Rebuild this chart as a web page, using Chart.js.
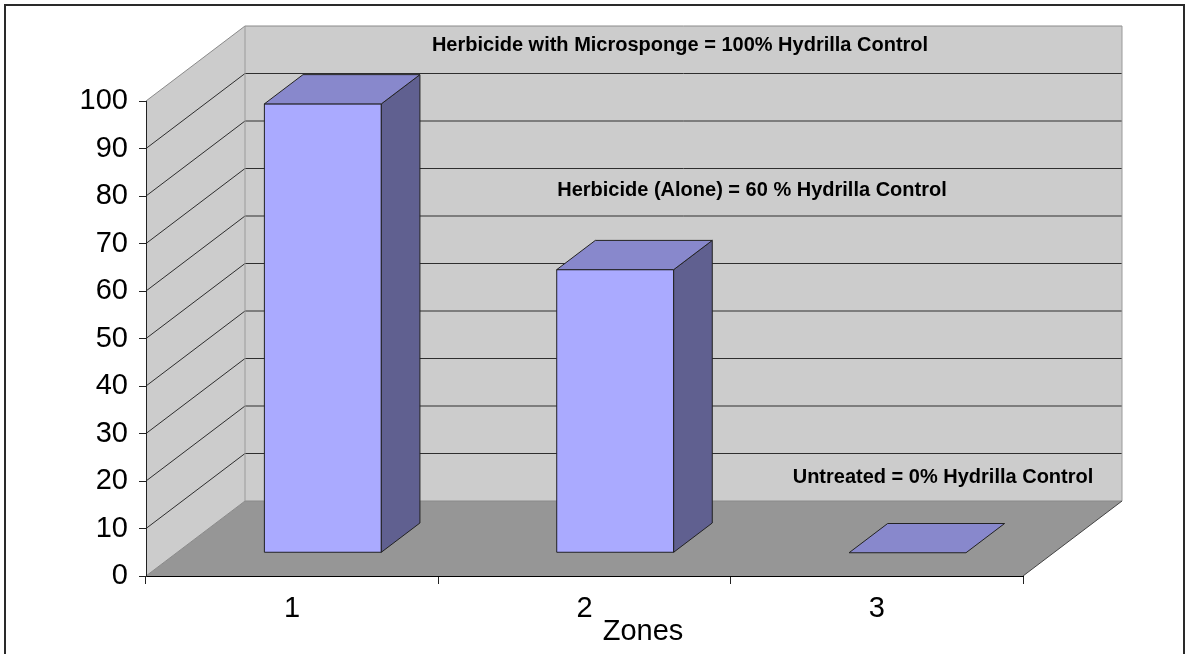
<!DOCTYPE html>
<html><head><meta charset="utf-8">
<script src="https://cdn.jsdelivr.net/npm/chart.js@4/dist/chart.umd.min.js"></script>
<style>html,body{margin:0;padding:0;background:#fff}canvas{display:block}</style>
</head><body>
<canvas id="c" width="1186" height="654"></canvas>
<script>
// ---- data ----
const zones = ['1', '2', '3'];
const hydrillaControl = [94.5, 59.6, 0];
const yMin = 0, yMax = 100, yStep = 10;
const axisTitle = 'Zones';
const annotationTexts = [
  'Herbicide with Microsponge = 100% Hydrilla Control',
  'Herbicide (Alone) = 60 % Hydrilla Control',
  'Untreated = 0% Hydrilla Control'
];

// ---- 3D geometry / styles ----
const WALL = {dx: 99, dy: -75};
const BAR_FRONT = 0.31, BAR_DEPTH = 0.39;
const FONT = "'Liberation Sans', Arial, sans-serif";

function poly(ctx, pts, fill, stroke, lw) {
  ctx.beginPath();
  ctx.moveTo(pts[0][0], pts[0][1]);
  for (let i = 1; i < pts.length; i++) ctx.lineTo(pts[i][0], pts[i][1]);
  ctx.closePath();
  if (fill) { ctx.fillStyle = fill; ctx.fill(); }
  if (stroke) { ctx.strokeStyle = stroke; ctx.lineWidth = lw || 1; ctx.stroke(); }
}
function line(ctx, pts, color, lw) {
  ctx.beginPath();
  ctx.moveTo(pts[0][0], pts[0][1]);
  for (let i = 1; i < pts.length; i++) ctx.lineTo(pts[i][0], pts[i][1]);
  ctx.strokeStyle = color; ctx.lineWidth = lw || 1; ctx.stroke();
}

const threeD = {
  id: 'threeD',
  beforeDraw(chart) {
    const {ctx, chartArea: a, scales: {y}} = chart;
    ctx.save();
    ctx.fillStyle = '#fff';
    ctx.fillRect(0, 0, chart.width, chart.height);
    ctx.strokeStyle = '#2a2a2a'; ctx.lineWidth = 2;
    ctx.strokeRect(5, 5, 1179, 700);
    const L = a.left, R = a.right;
    const T = y.getPixelForValue(yMax), B = y.getPixelForValue(yMin);
    const dx = WALL.dx, dy = WALL.dy;
    // back wall
    poly(ctx, [[L+dx, T+dy], [R+dx, T+dy], [R+dx, B+dy], [L+dx, B+dy]], '#cccccc');
    // side wall
    poly(ctx, [[L, B], [L, T], [L+dx, T+dy], [L+dx, B+dy]], '#cccccc');
    // floor
    poly(ctx, [[L, B], [L+dx, B+dy], [R+dx, B+dy], [R, B]], '#969696');
    // gridlines
    y.ticks.forEach(t => {
      const py = y.getPixelForValue(t.value);
      const edge = (t.value === yMin || t.value === yMax);
      line(ctx, [[L, py], [L+dx, py+dy], [R+dx, py+dy]], edge ? '#8a8a8a' : '#2e2e2e', 1);
    });
    // wall edges
    line(ctx, [[L+dx, T+dy], [L+dx, B+dy]], '#9a9a9a', 1);
    line(ctx, [[R+dx, T+dy], [R+dx, B+dy]], '#9a9a9a', 1);
    line(ctx, [[R, B], [R+dx, B+dy]], '#444', 1);
    ctx.restore();
  },
  afterDatasetsDraw(chart) {
    const ctx = chart.ctx;
    const meta = chart.getDatasetMeta(0);
    const fdx = WALL.dx * BAR_FRONT, fdy = WALL.dy * BAR_FRONT;
    const bdx = WALL.dx * BAR_DEPTH, bdy = WALL.dy * BAR_DEPTH;
    ctx.save();
    ctx.lineJoin = 'miter';
    meta.data.forEach(el => {
      const p = el.getProps(['x', 'y', 'base', 'width'], true);
      const xl = p.x - p.width / 2 + fdx, xr = p.x + p.width / 2 + fdx;
      const yt = p.y + fdy, yb = p.base + fdy;
      const edge = '#222';
      if (yb - yt > 0.5) {
        poly(ctx, [[xl, yt], [xr, yt], [xr, yb], [xl, yb]], '#aaaaff', edge, 1);
        poly(ctx, [[xr, yt], [xr+bdx, yt+bdy], [xr+bdx, yb+bdy], [xr, yb]], '#606090', edge, 1);
      }
      poly(ctx, [[xl, yt], [xr, yt], [xr+bdx, yt+bdy], [xl+bdx, yt+bdy]], '#8888cc', edge, 1);
    });
    ctx.restore();
  },
  afterDraw(chart) {
    const ctx = chart.ctx;
    ctx.save();
    ctx.fillStyle = '#000';
    ctx.textAlign = 'center';
    ctx.textBaseline = 'alphabetic';
    ctx.font = 'bold 20px ' + FONT;
    const pos = [[680, 51], [752, 196], [943, 483]];
    annotationTexts.forEach((t, i) => ctx.fillText(t, pos[i][0], pos[i][1]));
    ctx.font = '29px ' + FONT;
    ctx.fillText(axisTitle, 643, 640);
    ctx.restore();
  }
};

new Chart(document.getElementById('c'), {
  type: 'bar',
  data: {
    labels: zones,
    datasets: [{
      data: hydrillaControl,
      backgroundColor: 'rgba(0,0,0,0)',
      borderWidth: 0,
      categoryPercentage: 0.4,
      barPercentage: 1
    }]
  },
  options: {
    responsive: false,
    animation: false,
    events: [],
    layout: {padding: {left: 0, top: 101, right: 163, bottom: 0}},
    plugins: {legend: {display: false}, tooltip: {enabled: false}, title: {display: false}},
    scales: {
      x: {
        afterFit(s) { s.height = 78; },
        grid: {drawOnChartArea: false, drawTicks: true, tickLength: 8, color: '#222', offset: true},
        border: {display: true, color: '#000', width: 1},
        ticks: {color: '#000', font: {family: FONT, size: 29}, padding: 8, maxRotation: 0}
      },
      y: {
        min: yMin, max: yMax,
        afterFit(s) { s.width = 146; },
        grid: {drawOnChartArea: false, drawTicks: true, tickLength: 7, color: '#222'},
        border: {display: true, color: '#222', width: 1},
        ticks: {stepSize: yStep, color: '#000', font: {family: FONT, size: 29}, padding: 11}
      }
    }
  },
  plugins: [threeD]
});
</script>
</body></html>
